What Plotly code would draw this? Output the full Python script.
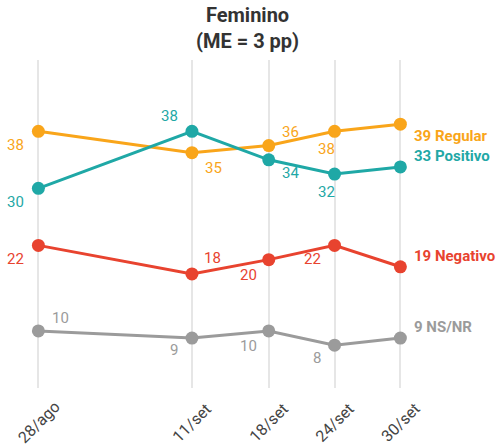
import plotly.graph_objects as go

# Survey dates and tick labels
dates = ["2022-08-28", "2022-09-11", "2022-09-18", "2022-09-24", "2022-09-30"]
date_labels = ["28/ago", "11/set", "18/set", "24/set", "30/set"]

# Series (percent)
regular = [38, 35, 36, 38, 39]
positivo = [30, 38, 34, 32, 33]
negativo = [22, 18, 20, 22, 19]
nsnr = [10, 9, 10, 8, 9]

series = [
    ("Regular", regular, "#F9A51A",
     [(-23, -14), (22, -15), (22, 14), (-8, -18)], -12),
    ("Positivo", positivo, "#1FA8A6",
     [(-23, -14), (-22, 15), (22, -13), (-8, -18)], 11),
    ("Negativo", negativo, "#E8432F",
     [(-23, -14), (21, 16), (-20, -15), (-22, -14)], 11),
    ("NS/NR", nsnr, "#9B9B9B",
     [(22, 13), (-18, -12), (-20, -15), (-18, -13)], 11),
]

FONT = "Roboto, 'Liberation Sans', Arial, sans-serif"

fig = go.Figure()
annotations = []

for name, vals, color, offsets, end_shift in series:
    fig.add_trace(go.Scatter(
        x=dates, y=vals, mode="lines+markers",
        line=dict(color=color, width=3),
        marker=dict(color=color, size=13),
        cliponaxis=False, showlegend=False, hoverinfo="skip",
    ))
    # value labels for every point but the last
    for d, v, (dx, dy) in zip(dates[:-1], vals[:-1], offsets):
        annotations.append(dict(
            x=d, y=v, xref="x", yref="y", text=str(v), showarrow=False,
            xshift=dx, yshift=dy, xanchor="center", yanchor="middle",
            font=dict(family=FONT, size=15, color=color),
        ))
    # end label with series name
    annotations.append(dict(
        x=dates[-1], y=vals[-1], xref="x", yref="y",
        text=f"<b>{vals[-1]} {name}</b>", showarrow=False,
        xshift=12, yshift=end_shift, xanchor="left", yanchor="middle",
        font=dict(family=FONT, size=15, color=color),
    ))

# Rotated date labels centred under each gridline
for d, lab in zip(dates, date_labels):
    annotations.append(dict(
        x=d, y=0, xref="x", yref="paper", text=lab, showarrow=False,
        textangle=-45, xanchor="center", yanchor="middle", yshift=-34,
        font=dict(family=FONT, size=16, color="#444444"),
    ))

# Two-line title above the plot area
annotations.append(dict(
    x=0.494, y=1, xref="paper", yref="paper", yshift=5,
    text="<b>Feminino<br>(ME = 3 pp)</b>", showarrow=False,
    xanchor="center", yanchor="bottom",
    font=dict(family=FONT, size=20, color="#333333"),
))

fig.update_layout(
    width=500, height=448,
    margin=dict(l=0, r=0, t=60, b=60),
    paper_bgcolor="white", plot_bgcolor="white",
    xaxis=dict(
        type="date", range=["2022-08-24 12:00", "2022-10-09 02:00"],
        tickvals=dates, showticklabels=False, ticks="",
        showgrid=True, gridcolor="#E6E6E6", gridwidth=1.5,
        zeroline=False, showline=False,
    ),
    yaxis=dict(
        range=[2, 48], visible=False, showgrid=False, zeroline=False,
    ),
    annotations=annotations,
)

fig.write_html("out.html")
